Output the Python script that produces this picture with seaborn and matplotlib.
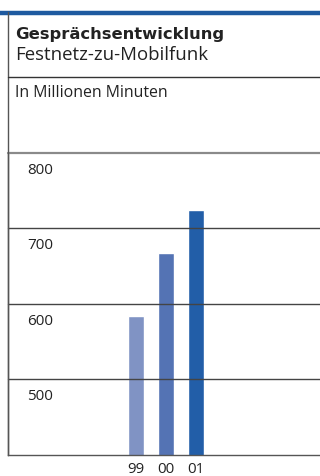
import matplotlib
matplotlib.use("Agg")
import matplotlib.pyplot as plt
import seaborn as sns
import pandas as pd
from matplotlib.lines import Line2D

# Data: fixed-to-mobile call minutes (millions)
years = ["99", "00", "01"]
minutes = [584, 668, 725]
bar_colors = ["#8093c4", "#5473b4", "#225ea8"]
y_ticks = [500, 600, 700, 800]

title = "Gesprächsentwicklung"
subtitle = "Festnetz-zu-Mobilfunk"
unit_label = "In Millionen Minuten"

sns.set_theme(style="white")
plt.rcParams["font.family"] = ["Open Sans", "DejaVu Sans"]

W, H = 320, 477
fig = plt.figure(figsize=(W / 100, H / 100), dpi=100)

def fx(px):
    return px / W

def fy(py):
    return 1 - py / H

# Plot area in pixel coordinates
left, right, top, bottom = 7.5, 320, 154, 455.7
ax = fig.add_axes([fx(left), fy(bottom), fx(right) - fx(left), fy(top) - fy(bottom)])

df = pd.DataFrame({"year": years, "minutes": minutes})
sns.barplot(data=df, x="year", y="minutes", hue="year", palette=bar_colors,
            legend=False, width=0.53, ax=ax, zorder=1, saturation=1)

ax.set_ylim(400, 800)
ax.set_xlim(-4.28, 6.13)
ax.set_xlabel("")
ax.set_ylabel("")
ax.set_yticks([])
ax.tick_params(axis="x", length=0, pad=12.3, labelsize=10.8, labelcolor="#222222")
for lbl in ax.get_xticklabels():
    lbl.set_va("baseline")

for s in ["top", "right"]:
    ax.spines[s].set_visible(False)
for s in ["left", "bottom"]:
    ax.spines[s].set_color("#555555")
    ax.spines[s].set_linewidth(1.0)

# Horizontal rules drawn over the bars, with value labels hanging below each
for v in y_ticks:
    c = "#8a8a8a" if v == 800 else "#444444"
    lw = 1.6 if v == 800 else 1.0
    ax.axhline(v, color=c, lw=lw, zorder=3, clip_on=False)
    ax.text(0.0625, v - 26.5, str(v), transform=ax.get_yaxis_transform(),
            ha="left", va="baseline", fontsize=11, color="#222222")

# Header: blue band, left rule and separators
fig.add_artist(Line2D([0, 1], [fy(14), fy(14)], color="#1e5aa0", lw=3.2))
fig.add_artist(Line2D([fx(left), fx(left)], [fy(12.5), fy(bottom)], color="#555555", lw=1.0))
fig.add_artist(Line2D([fx(left), 1], [fy(78), fy(78)], color="#333333", lw=1.0))

fig.text(fx(15), fy(38.5), title, fontsize=11.8, fontweight="bold", color="#222222",
         ha="left", va="baseline", family=["DejaVu Sans"])
fig.text(fx(15), fy(60.5), subtitle, fontsize=13.4, color="#222222",
         ha="left", va="baseline")
fig.text(fx(15), fy(97.3), unit_label, fontsize=11.4, color="#222222",
         ha="left", va="baseline")

fig.savefig("out.png", dpi=100, facecolor="white")
